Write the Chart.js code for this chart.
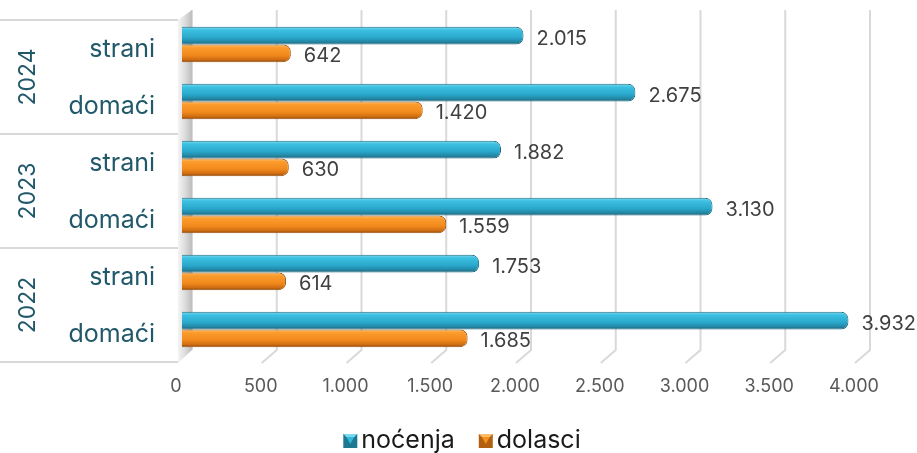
<!DOCTYPE html>
<html>
<head>
<meta charset="utf-8">
<script src="https://cdn.jsdelivr.net/npm/chart.js@4.4.1/dist/chart.umd.min.js"></script>
<style>
  html, body { margin: 0; padding: 0; background: #fff; }
  #wrap { width: 917px; height: 453px; position: relative; }
</style>
</head>
<body>
<div id="wrap"><canvas id="chart" width="917" height="453"></canvas></div>
<script>
const categories = ['strani', 'domaći', 'strani', 'domaći', 'strani', 'domaći'];
const years = ['2024', '2023', '2022'];
const nocenja = [2015, 2675, 1882, 3130, 1753, 3932];
const dolasci = [642, 1420, 630, 1559, 614, 1685];
const seriesNames = ['noćenja', 'dolasci'];
const xMin = 0, xMax = 4000, xStep = 500;

const FONT = 'Inter, "Open Sans", sans-serif';
const CAT_PCT = 0.62;
const blueStops = [[0, '#7fdcf0'], [0.18, '#3cc0e2'], [0.6, '#2aa8cc'], [0.85, '#2286a3'], [1, '#1b5f73']];
const orangeStops = [[0, '#ffc06a'], [0.18, '#fb9b2c'], [0.6, '#f28a1c'], [0.85, '#cf6d12'], [1, '#8f4a0c']];

const fmt = v => String(v).replace(/\B(?=(\d{3})+(?!\d))/g, '.');

function barFill(ctx, stops) {
  const chart = ctx.chart;
  const y = chart.scales.y;
  if (!chart.chartArea || !y || ctx.type !== 'data') return stops[2][1];
  const band = (y.getPixelForValue(1) - y.getPixelForValue(0)) * CAT_PCT;
  const h = band / 2;
  const top = y.getPixelForValue(ctx.dataIndex) - band / 2 + ctx.datasetIndex * h;
  const g = chart.ctx.createLinearGradient(0, top, 0, top + h);
  stops.forEach(([o, c]) => g.addColorStop(o, c));
  return g;
}

// small bevelled square like the legend keys of the original
function drawMarker(ctx, x, y, light, base, dark) {
  ctx.fillStyle = dark;
  ctx.fillRect(x, y, 14, 14);
  ctx.fillStyle = light;
  ctx.beginPath(); ctx.moveTo(x, y); ctx.lineTo(x + 14, y); ctx.lineTo(x + 11, y + 3); ctx.lineTo(x + 3, y + 3); ctx.closePath(); ctx.fill();
  ctx.fillStyle = base;
  ctx.beginPath(); ctx.moveTo(x + 3, y + 3); ctx.lineTo(x + 11, y + 3); ctx.lineTo(x + 7, y + 10); ctx.closePath(); ctx.fill();
}
const markerColors = [['#7ad8ef', '#34b6da', '#1d7892'], ['#fcbc6a', '#f5921f', '#b0600f']];

const decor = {
  id: 'decor',
  beforeDatasetsDraw(chart) {
    const { ctx, chartArea: a, scales: { x, y } } = chart;
    const step = y.getPixelForValue(1) - y.getPixelForValue(0);
    ctx.save();
    // back wall gridlines with slanted feet
    ctx.strokeStyle = '#d9d9d9';
    ctx.lineWidth = 2;
    for (let v = xMin; v <= xMax; v += xStep) {
      const px = x.getPixelForValue(v);
      ctx.beginPath();
      ctx.moveTo(px + 10, a.top - 6);
      ctx.lineTo(px + 10, a.bottom - 8);
      if (v > xMin) ctx.lineTo(px - 5, a.bottom + 5);
      ctx.stroke();
    }
    // left wall
    const wl = a.left - 4, wr = a.left + 10;
    const wg = ctx.createLinearGradient(wl, 0, wr, 0);
    wg.addColorStop(0, '#f4f4f4');
    wg.addColorStop(0.5, '#dcdcdc');
    wg.addColorStop(1, '#bdbdbd');
    ctx.fillStyle = wg;
    ctx.beginPath();
    ctx.moveTo(wl, a.top + 4);
    ctx.lineTo(wr, a.top - 6);
    ctx.lineTo(wr, a.bottom - 8);
    ctx.lineTo(wl, a.bottom + 5);
    ctx.closePath();
    ctx.fill();
    // category table lines
    ctx.strokeStyle = '#d9d9d9';
    ctx.lineWidth = 2;
    for (let i = 0; i <= years.length; i++) {
      const yy = y.getPixelForValue(i * 2) - step / 2 + 4;
      ctx.beginPath();
      ctx.moveTo(0, yy);
      ctx.lineTo(wl, yy);
      ctx.stroke();
    }
    // year labels
    ctx.fillStyle = '#22596a';
    ctx.font = '23px ' + FONT;
    ctx.textAlign = 'center';
    ctx.textBaseline = 'middle';
    years.forEach((yr, i) => {
      const cy = (y.getPixelForValue(i * 2) + y.getPixelForValue(i * 2 + 1)) / 2 + 4;
      ctx.save();
      ctx.translate(28, cy);
      ctx.rotate(-Math.PI / 2);
      ctx.fillText(yr, 0, 0);
      ctx.restore();
    });
    ctx.restore();
  },
  afterDatasetsDraw(chart) {
    const { ctx } = chart;
    ctx.save();
    ctx.fillStyle = '#404040';
    ctx.font = '20px ' + FONT;
    ctx.textAlign = 'left';
    ctx.textBaseline = 'middle';
    chart.data.datasets.forEach((ds, di) => {
      chart.getDatasetMeta(di).data.forEach((bar, i) => {
        ctx.fillText(fmt(ds.data[i]), bar.x + 13, bar.y + 3);
      });
    });
    ctx.restore();
  },
  afterDraw(chart) {
    // legend under the axis
    const { ctx } = chart;
    ctx.save();
    ctx.font = '25px ' + FONT;
    ctx.textBaseline = 'middle';
    ctx.textAlign = 'left';
    const names = chart.data.datasets.map(ds => ds.label);
    const widths = names.map(n => ctx.measureText(n).width);
    const total = widths.reduce((s, w) => s + w + 18, 0) + 24 * (names.length - 1);
    let lx = 462 - total / 2;
    const ly = 440;
    names.forEach((n, i) => {
      drawMarker(ctx, lx, ly - 6, ...markerColors[i]);
      ctx.fillStyle = '#1a1a1a';
      ctx.fillText(n, lx + 18, ly);
      lx += 18 + widths[i] + 24;
    });
    ctx.restore();
  }
};

new Chart(document.getElementById('chart'), {
  type: 'bar',
  data: {
    labels: categories,
    datasets: [
      {
        label: seriesNames[0],
        data: nocenja,
        backgroundColor: ctx => barFill(ctx, blueStops),
        borderColor: '#1d6a80',
        borderWidth: 1,
        borderSkipped: 'start',
        borderRadius: 7,
        categoryPercentage: CAT_PCT,
        barPercentage: 1
      },
      {
        label: seriesNames[1],
        data: dolasci,
        backgroundColor: ctx => barFill(ctx, orangeStops),
        borderColor: '#9c520e',
        borderWidth: 1,
        borderSkipped: 'start',
        borderRadius: 7,
        categoryPercentage: CAT_PCT,
        barPercentage: 1
      }
    ]
  },
  options: {
    indexAxis: 'y',
    responsive: false,
    animation: false,
    layout: { padding: { top: 16, right: 57, left: 0, bottom: 30 } },
    scales: {
      x: {
        min: xMin,
        max: xMax,
        grid: { display: false, drawTicks: false },
        border: { display: false },
        ticks: {
          stepSize: xStep,
          padding: 18,
          labelOffset: -6,
          color: '#595959',
          font: { family: FONT, size: 18 },
          callback: v => fmt(v)
        },
        afterFit: s => {
          s.height = 65;
          s.paddingLeft = 0;
          s.paddingRight = 0;
        }
      },
      y: {
        grid: { display: false, drawTicks: false },
        border: { display: false },
        ticks: {
          padding: 27,
          labelOffset: 5,
          color: '#22596a',
          font: { family: FONT, size: 25 }
        },
        afterFit: s => {
          s.width = 182;
          s.paddingTop = 0;
          s.paddingBottom = 0;
        }
      }
    },
    plugins: {
      tooltip: { enabled: false },
      legend: { display: false }
    }
  },
  plugins: [decor]
});
</script>
</body>
</html>
